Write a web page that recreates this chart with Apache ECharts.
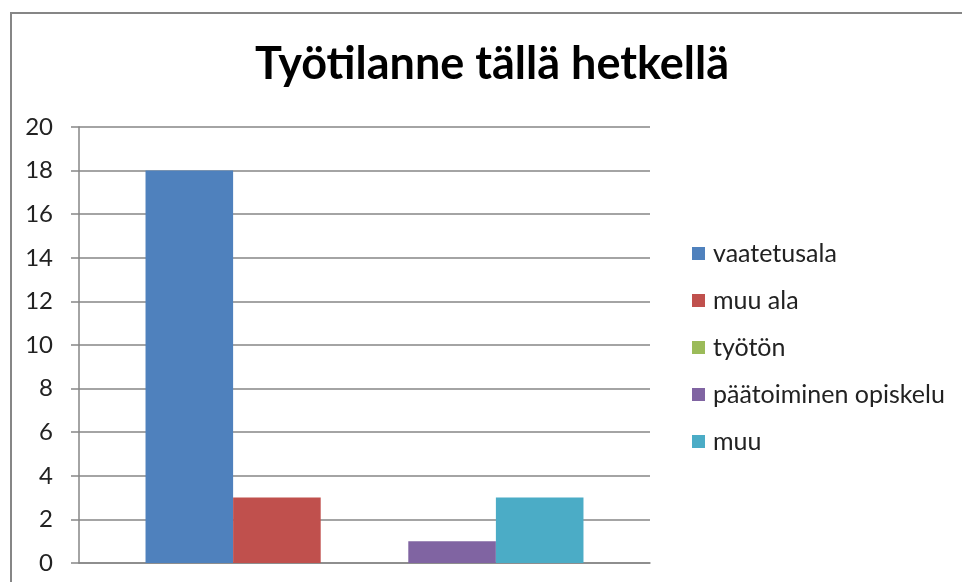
<!DOCTYPE html>
<html><head><meta charset="utf-8">
<script src="https://cdn.jsdelivr.net/npm/echarts@6/dist/echarts.min.js"></script>
<style>html,body{margin:0;padding:0;background:#fff}#c{width:962px;height:582px}</style>
</head><body><div id="c"></div>
<script>
const categories = [''];
const seriesNames = ['vaatetusala', 'muu ala', 'työtön', 'päätoiminen opiskelu', 'muu'];
const vaatetusala = [18];
const muuAla = [3];
const tyoton = [0];
const opiskelu = [1];
const muu = [3];
const yTicks = [0, 2, 4, 6, 8, 10, 12, 14, 16, 18, 20];
const colors = ['#4F81BD', '#C0504D', '#9BBB59', '#8064A2', '#4BACC6'];
const values = [vaatetusala, muuAla, tyoton, opiskelu, muu];

const chart = echarts.init(document.getElementById('c'));
chart.setOption({
  animation: false,
  color: colors,
  title: {
    text: 'Työtilanne tällä hetkellä',
    left: 487, top: 37, textAlign: 'center',
    textStyle: {fontFamily: 'Lato', fontWeight: 'bold', fontSize: 45, color: '#000'}
  },
  graphic: [{
    type: 'rect', shape: {x: 11, y: 13, width: 980, height: 600},
    style: {fill: 'none', stroke: '#868686', lineWidth: 2}, silent: true
  }],
  legend: {
    orient: 'vertical', left: 692, top: 241, padding: 0,
    itemWidth: 13, itemHeight: 13, itemGap: 22,
    icon: 'rect',
    textStyle: {fontFamily: 'Lato', fontSize: 25, color: '#222', padding: [0, 0, 0, 3]},
    data: seriesNames
  },
  grid: {left: 79, right: 312, top: 127, bottom: 19},
  xAxis: {
    type: 'category', data: categories,
    axisLine: {lineStyle: {color: '#868686', width: 1.5}},
    axisTick: {show: false}, axisLabel: {show: false}
  },
  yAxis: {
    type: 'value', min: yTicks[0], max: yTicks[yTicks.length - 1], interval: 2,
    axisLine: {show: true, lineStyle: {color: '#868686', width: 1.5}},
    axisTick: {show: true, length: 8, lineStyle: {color: '#868686', width: 1.5}},
    axisLabel: {margin: 26, fontFamily: 'Lato', fontSize: 24, color: '#222'},
    splitLine: {lineStyle: {color: '#868686', width: 1.5}}
  },
  series: seriesNames.map((n, i) => ({
    name: n, type: 'bar', data: values[i],
    barGap: 0, barCategoryGap: '23.3%'
  }))
});
</script></body></html>
